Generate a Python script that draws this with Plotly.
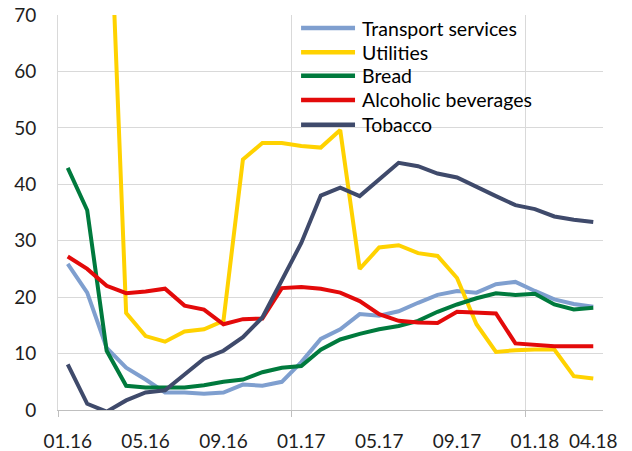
import plotly.graph_objects as go

months = ["01.16","02.16","03.16","04.16","05.16","06.16","07.16","08.16","09.16","10.16","11.16","12.16",
          "01.17","02.17","03.17","04.17","05.17","06.17","07.17","08.17","09.17","10.17","11.17","12.17",
          "01.18","02.18","03.18","04.18"]
tick_labels = ["01.16","05.16","09.16","01.17","05.17","09.17","01.18","04.18"]

transport = [25.9, 20.8, 11.0, 7.5, 5.4, 3.1, 3.1, 2.9, 3.1, 4.5, 4.3, 5.0,
             8.5, 12.6, 14.3, 17.0, 16.7, 17.5, 19.0, 20.4, 21.1, 20.8, 22.3, 22.7,
             21.1, 19.6, 18.8, 18.3]
utilities = [120.0, 112.0, 105.0, 17.2, 13.1, 12.1, 13.9, 14.3, 15.8, 44.4, 47.3, 47.3,
             46.8, 46.5, 49.6, 25.0, 28.8, 29.2, 27.8, 27.3, 23.4, 15.2, 10.3, 10.6,
             10.7, 10.7, 6.0, 5.6]
bread = [42.9, 35.4, 10.5, 4.3, 4.0, 4.0, 4.0, 4.4, 5.0, 5.4, 6.7, 7.5,
         7.8, 10.7, 12.5, 13.5, 14.3, 14.9, 15.8, 17.4, 18.7, 19.8, 20.7, 20.4,
         20.6, 18.7, 17.8, 18.1]
alcohol = [27.2, 25.0, 22.0, 20.7, 21.0, 21.5, 18.5, 17.8, 15.2, 16.1, 16.2, 21.6,
           21.8, 21.5, 20.8, 19.3, 17.0, 15.8, 15.5, 15.4, 17.4, 17.2, 17.1, 11.8,
           11.5, 11.3, 11.3, 11.3]
tobacco = [8.1, 1.1, -0.3, 1.7, 3.1, 3.5, 6.3, 9.1, 10.5, 12.9, 16.4, 22.9,
           29.6, 38.0, 39.4, 37.9, 40.9, 43.8, 43.2, 41.9, 41.2, 39.5, 37.9, 36.3,
           35.6, 34.3, 33.7, 33.3]

names = ["Transport services", "Utilities", "Bread", "Alcoholic beverages", "Tobacco"]
series = [transport, utilities, bread, alcohol, tobacco]
colors = ["#7F9FCF", "#FFD200", "#007A3D", "#E30A0A", "#3F4A6B"]

FONT = "Lato"
x_idx = list(range(len(months)))

fig = go.Figure()
for name, vals, col in zip(names, series, colors):
    fig.add_trace(go.Scatter(x=x_idx, y=vals, mode="lines", name=name,
                             line=dict(color=col, width=4), showlegend=False,
                             customdata=months, hovertemplate="%{customdata}: %{y}<extra>" + name + "</extra>"))

# custom legend (lines + text) in paper coordinates
row_y = [0.967, 0.906, 0.846, 0.785, 0.722]
for name, col, yy in zip(names, colors, row_y):
    fig.add_shape(type="line", xref="paper", yref="paper", x0=0.446, x1=0.545, y0=yy, y1=yy,
                  line=dict(color=col, width=4.5))
    fig.add_annotation(xref="paper", yref="paper", x=0.554, y=yy, text=name, showarrow=False,
                       xanchor="left", yanchor="middle", font=dict(family=FONT, size=19.5, color="#000000"))

tick_pos = [months.index(t) for t in tick_labels]
fig.update_layout(
    width=632, height=451,
    margin=dict(l=58, r=29, t=15, b=41),
    paper_bgcolor="white", plot_bgcolor="white",
    font=dict(family=FONT, size=19, color="#1E1E1E"),
    xaxis=dict(range=[-0.5, 27.5], tickvals=tick_pos, ticktext=tick_labels, automargin=False,
               showgrid=False, ticks="", zeroline=False, showline=True, linecolor="#BFBFBF", linewidth=1,
               ticklabelstandoff=14,
               minor=dict(tickvals=[-0.5, 11.5, 23.5], ticks="outside", ticklen=6, tickcolor="#BFBFBF",
                          showgrid=True, gridcolor="#D9D9D9", gridwidth=1)),
    yaxis=dict(range=[0, 70], tickvals=[0,10,20,30,40,50,60,70], showgrid=True, gridcolor="#D9D9D9",
               gridwidth=1, zeroline=False, showline=True, linecolor="#D9D9D9", ticks="",
               ticklabelstandoff=17, automargin=False),
)
fig.write_html("out.html", config={"displayModeBar": False},
               post_script="document.body.style.margin='0px';document.body.style.padding='0px';"
                           "document.documentElement.style.overflow='hidden';")
